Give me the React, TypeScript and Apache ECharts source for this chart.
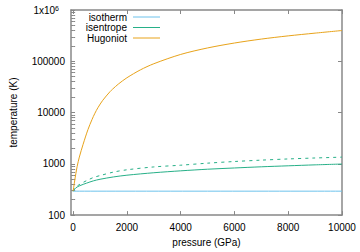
import React, { useEffect, useRef } from "react";
import * as echarts from "echarts";

// pressure (GPa) / temperature (K)
const hugoniotP = [0, 50, 100, 150, 230, 370, 550, 700, 810, 920, 1100, 1370, 1470, 1680, 2000, 2500, 3000, 4000, 5000, 6000, 7000, 8000, 9000, 10000];
const hugoniotT = [293, 441, 643, 893, 1352, 2400, 4645, 7280, 9700, 12400, 17300, 25500, 28700, 35900, 47700, 67900, 89500, 136000, 182000, 227000, 271000, 313000, 354000, 398000];

const isentropeP = [0, 100, 250, 500, 750, 1000, 1500, 2000, 3000, 4000, 5000, 6000, 7000, 8000, 9000, 10000];
const isentropeT = [293, 340, 375, 420, 465, 500, 555, 600, 670, 730, 785, 830, 875, 915, 955, 990];
const isentrope2T = [293, 350, 400, 470, 540, 590, 690, 765, 870, 940, 1030, 1110, 1180, 1245, 1300, 1350];

const isothermP = [0, 10000];
const isothermT = [293, 293];

const xTicks = [0, 2000, 4000, 6000, 8000, 10000];
const yMinorTicks: number[] = [];
for (const d of [100, 1000, 10000, 100000]) {
  for (let k = 2; k <= 9; k++) yMinorTicks.push(k * d);
}

const legendNames = ["isotherm", "isentrope", "Hugoniot"];
const colors = ["#6cc2ec", "#27b088", "#e8a31a"];

const FONT = "'Liberation Sans', Arial, sans-serif";
const BORDER = "#888888";

const zip = (a: number[], b: number[]) => a.map((v, i) => [v, b[i]]);

export default function App() {
  const ref = useRef<HTMLDivElement>(null);
  useEffect(() => {
    if (!ref.current) return;
    const chart = echarts.init(ref.current, null, { renderer: "svg" });
    const baseX = {
      type: "value" as const,
      min: -80,
      max: 10000,
      splitLine: { show: false },
      axisLine: { show: true, onZero: false, lineStyle: { color: BORDER, width: 1.5 } },
      axisTick: { show: true, inside: true, length: 4, customValues: xTicks, lineStyle: { color: BORDER } },
    };
    const baseY = {
      type: "log" as const,
      logBase: 10,
      min: 100,
      max: 1000000,
      splitLine: { show: false },
      axisLine: { show: true, onZero: false, lineStyle: { color: BORDER, width: 1.5 } },
      axisTick: { show: true, inside: true, length: 4, lineStyle: { color: BORDER } },
    };
    const lineOpts = { type: "line" as const, showSymbol: false, smooth: 0.3 };
    chart.setOption({
      animation: false,
      grid: { left: 68, right: 18, top: 10, bottom: 33 },
      textStyle: { fontFamily: FONT },
      xAxis: [
        {
          ...baseX,
          position: "bottom",
          name: "pressure (GPa)",
          nameLocation: "middle",
          nameGap: 21,
          nameTextStyle: { color: "#000", fontSize: 10, fontFamily: FONT },
          axisLabel: {
            customValues: xTicks,
            color: "#000",
            fontSize: 10,
            fontFamily: FONT,
            margin: 7,
            formatter: (v: number) => String(v),
          },
        },
        { ...baseX, position: "top", axisLabel: { show: false } },
      ],
      yAxis: [
        {
          ...baseY,
          position: "left",
          name: "temperature (K)",
          nameLocation: "middle",
          nameGap: 53,
          nameTextStyle: { color: "#000", fontSize: 10, fontFamily: FONT },
          axisLabel: {
            color: "#000",
            fontSize: 10,
            fontFamily: FONT,
            margin: 6,
            formatter: (v: number) => (v >= 999999 ? "{b|1x10}{s|6}" : String(Math.round(v))),
            rich: {
              b: { fontSize: 10, fontFamily: FONT, color: "#000", verticalAlign: "bottom" },
              s: { fontSize: 7, fontFamily: FONT, color: "#000", verticalAlign: "top", padding: [0, 6, 0, 0] },
            },
          },
        },
        { ...baseY, position: "right", axisLabel: { show: false } },
        {
          ...baseY,
          position: "left",
          axisLine: { show: false },
          axisLabel: { show: false },
          axisTick: { show: true, inside: true, length: 2, customValues: yMinorTicks, lineStyle: { color: BORDER } },
        },
        {
          ...baseY,
          position: "right",
          axisLine: { show: false },
          axisLabel: { show: false },
          axisTick: { show: true, inside: true, length: 2, customValues: yMinorTicks, lineStyle: { color: BORDER } },
        },
      ],
      series: [
        {
          ...lineOpts,
          name: "isotherm",
          data: zip(isothermP, isothermT),
          lineStyle: { color: colors[0], width: 1 },
        },
        {
          ...lineOpts,
          name: "isentrope",
          data: zip(isentropeP, isentropeT),
          lineStyle: { color: colors[1], width: 1 },
        },
        {
          ...lineOpts,
          name: "isentrope (dashed)",
          data: zip(isentropeP, isentrope2T),
          lineStyle: { color: colors[1], width: 1, type: [3, 4] },
        },
        {
          ...lineOpts,
          name: "Hugoniot",
          data: zip(hugoniotP, hugoniotT),
          lineStyle: { color: colors[2], width: 1 },
        },
      ],
      graphic: legendNames.flatMap((n, i) => [
        {
          type: "text",
          x: 127,
          y: 17 + i * 10.5,
          style: {
            text: n,
            fill: "#000",
            font: `10px ${FONT}`,
            textAlign: "right",
            textVerticalAlign: "middle",
          },
        },
        {
          type: "line",
          shape: { x1: 133, y1: 17 + i * 10.5, x2: 160, y2: 17 + i * 10.5 },
          style: { stroke: colors[i], lineWidth: 1 },
        },
      ]),
    });
    return () => chart.dispose();
  }, []);
  return (
    <div
      ref={ref}
      style={{ position: "absolute", left: 0, top: 0, width: 360, height: 252 }}
    />
  );
}
